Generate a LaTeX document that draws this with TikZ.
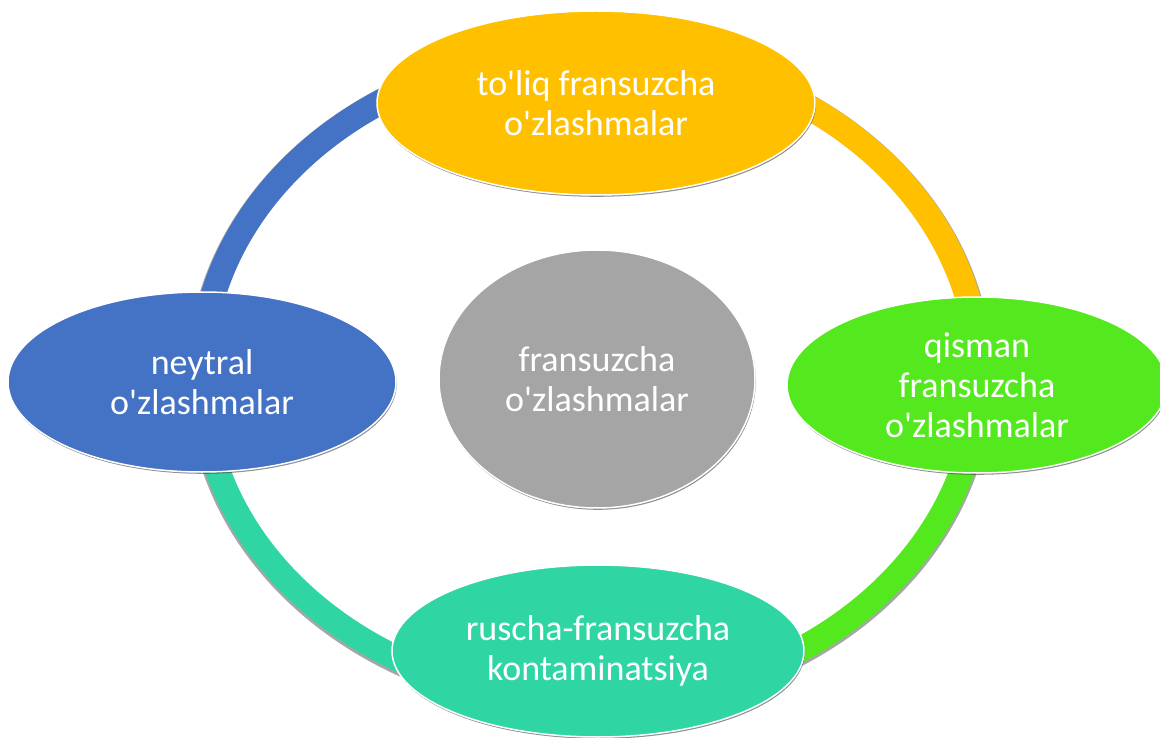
\documentclass[tikz,border=0pt]{standalone}
\usepackage{fontspec}
\setmainfont{Carlito}[Ligatures=TeXOff]
\usetikzlibrary{shapes.geometric,shadows}
\definecolor{cblue}{HTML}{4472C4}
\definecolor{cyellow}{HTML}{FFC000}
\definecolor{cgreen}{HTML}{54E81E}
\definecolor{cteal}{HTML}{2FD6A3}
\definecolor{cgray}{HTML}{A5A5A5}
\begin{document}
\begin{tikzpicture}[x=1pt,y=-1pt,
  blob/.style={ellipse, draw=white, line width=1.5pt, text=white, align=center,
    inner sep=0pt, font=\fontsize{36}{40}\selectfont,
    drop shadow={shadow xshift=0.8pt, shadow yshift=-1.8pt, opacity=0.55, fill=black!80}},
  ringarc/.style={line width=25pt}]
\useasboundingbox (0,0) rectangle (1160,738);
\fill[white] (0,0) rectangle (1160,738);
% ring end points
\coordinate (rL) at (201,376);
\coordinate (rT) at (590,51);
\coordinate (rR) at (979,376);
\coordinate (rB) at (590,701);
% faint outer shadow of the ring
\draw[ringarc, black, opacity=0.35] (590,377.5) ellipse [x radius=390.5, y radius=326.5];
% ring arcs
\draw[ringarc, cblue]   (rL) .. controls +(0,-179.5) and +(-214.8,0) .. (rT);
\draw[ringarc, cyellow] (rT) .. controls +(214.8,0) and +(0,-179.5) .. (rR);
\draw[ringarc, cgreen]  (rR) .. controls +(0,179.5) and +(214.8,0) .. (rB);
\draw[ringarc, cteal]   (rB) .. controls +(-214.8,0) and +(0,179.5) .. (rL);
% nodes
\node[blob, fill=cgray, minimum width=316, minimum height=258] (C) at (597,379) {fransuzcha\\o'zlashmalar};
\node[blob, fill=cyellow, minimum width=438, minimum height=184] (T) at (596,103) {to'liq fransuzcha\\o'zlashmalar};
\node[blob, fill=cblue, minimum width=388, minimum height=180] (L) at (202,382) {neytral\\o'zlashmalar};
\node[blob, fill=cgreen, minimum width=380, minimum height=176] (R) at (977,385) {qisman\\fransuzcha\\o'zlashmalar};
\node[blob, fill=cteal, minimum width=412, minimum height=172] (B) at (598,651) {ruscha-fransuzcha\\kontaminatsiya};
\end{tikzpicture}
\end{document}
